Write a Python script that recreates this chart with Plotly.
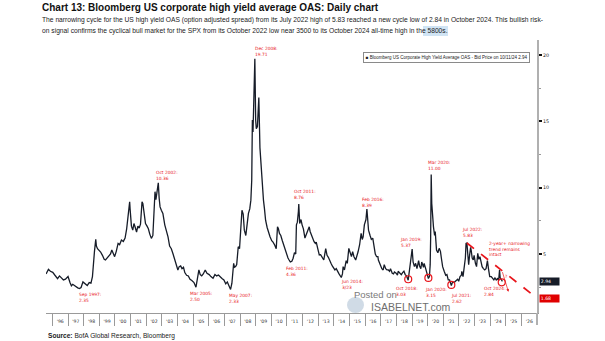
import plotly.graph_objects as go

# ---------------- data ----------------
dates = [
    "1995-08-07","1995-10-01","1995-11-15","1996-01-10","1996-03-01","1996-05-01","1996-06-15","1996-08-01",
    "1996-09-15","1996-11-01","1997-01-01","1997-02-15","1997-03-20","1997-04-20","1997-05-20","1997-07-01",
    "1997-08-15","1997-09-25","1997-11-01","1997-12-15","1998-02-01","1998-03-25","1998-05-10","1998-06-20",
    "1998-07-25","1998-08-20","1998-09-10","1998-10-10","1998-10-25","1998-11-20","1998-12-20","1999-02-01",
    "1999-03-15","1999-04-25","1999-05-25","1999-07-01","1999-08-15","1999-09-20","1999-10-20","1999-11-25",
    "1999-12-25","2000-02-01","2000-03-15","2000-04-20","2000-06-01","2000-07-15","2000-08-25","2000-10-01",
    "2000-11-05","2000-12-10","2000-12-20","2001-01-20","2001-02-20","2001-03-20","2001-04-20","2001-05-20",
    "2001-06-20","2001-07-20","2001-08-20","2001-09-25","2001-10-15","2001-11-15","2001-12-15","2002-01-20",
    "2002-02-20","2002-03-25","2002-05-01","2002-06-05","2002-06-30","2002-07-25","2002-08-15","2002-09-05",
    "2002-09-25","2002-10-10","2002-10-30","2002-11-20","2002-12-20","2003-01-25","2003-03-10","2003-04-20",
    "2003-05-25","2003-07-01","2003-08-10","2003-09-20","2003-10-25","2003-12-01","2004-01-10","2004-02-10",
    "2004-03-15","2004-04-15","2004-05-20","2004-06-20","2004-08-01","2004-09-10","2004-10-20","2004-12-01",
    "2005-01-20","2005-03-08","2005-04-10","2005-05-15","2005-06-15","2005-07-20","2005-08-25","2005-10-10",
    "2005-11-20","2006-01-10","2006-02-20","2006-04-10","2006-05-25","2006-07-05","2006-08-15","2006-09-25",
    "2006-11-05","2006-12-20","2007-02-01","2007-03-10","2007-04-15","2007-05-25","2007-06-25","2007-07-15",
    "2007-08-05","2007-08-25","2007-09-20","2007-10-15","2007-11-20","2007-12-20","2008-01-20","2008-02-15",
    "2008-03-15","2008-04-10","2008-05-15","2008-06-15","2008-07-15","2008-08-15","2008-09-10","2008-09-30",
    "2008-10-15","2008-10-30","2008-11-20","2008-12-12","2008-12-31","2009-01-15","2009-02-10","2009-03-05",
    "2009-03-15","2009-04-10","2009-05-05","2009-06-01","2009-07-01","2009-07-25","2009-08-20","2009-09-25",
    "2009-10-25","2009-12-01","2010-01-10","2010-02-10","2010-03-20","2010-04-25","2010-05-25","2010-06-15",
    "2010-07-10","2010-08-10","2010-09-15","2010-10-20","2010-11-25","2010-12-25","2011-01-25","2011-02-20",
    "2011-03-20","2011-04-25","2011-05-25","2011-06-25","2011-07-25","2011-08-10","2011-09-01","2011-09-25",
    "2011-10-04","2011-10-25","2011-11-25","2011-12-20","2012-01-20","2012-02-25","2012-03-25","2012-04-25",
    "2012-06-04","2012-06-25","2012-07-25","2012-08-25","2012-09-25","2012-10-25","2012-11-15","2012-12-20",
    "2013-01-25","2013-02-25","2013-03-25","2013-05-10","2013-06-24","2013-07-25","2013-08-25","2013-09-25",
    "2013-10-25","2013-11-25","2013-12-25","2014-01-25","2014-02-25","2014-04-01","2014-05-01","2014-06-23",
    "2014-07-20","2014-08-05","2014-09-05","2014-10-15","2014-11-10","2014-12-16","2015-01-15","2015-02-15",
    "2015-03-15","2015-04-15","2015-05-25","2015-06-30","2015-07-20","2015-08-25","2015-09-29","2015-10-25",
    "2015-11-15","2015-12-14","2016-01-20","2016-02-11","2016-03-01","2016-03-20","2016-04-25","2016-05-25",
    "2016-06-27","2016-07-25","2016-08-25","2016-09-25","2016-10-25","2016-11-05","2016-12-15","2017-01-25",
    "2017-02-25","2017-03-22","2017-04-25","2017-05-25","2017-06-25","2017-07-25","2017-08-15","2017-09-25",
    "2017-10-25","2017-11-15","2017-12-25","2018-01-25","2018-02-10","2018-03-25","2018-04-25","2018-05-25",
    "2018-06-25","2018-07-25","2018-08-25","2018-10-03","2018-10-30","2018-11-25","2018-12-15","2019-01-03",
    "2019-01-25","2019-02-25","2019-03-25","2019-04-25","2019-06-03","2019-06-25","2019-07-25","2019-08-15",
    "2019-09-25","2019-10-10","2019-11-15","2019-12-15","2020-01-17","2020-02-10","2020-02-28","2020-03-10",
    "2020-03-23","2020-04-05","2020-04-25","2020-05-15","2020-06-10","2020-06-25","2020-07-25","2020-08-25",
    "2020-09-25","2020-10-25","2020-11-15","2020-12-15","2021-01-20","2021-02-25","2021-03-25","2021-04-25",
    "2021-05-25","2021-07-06","2021-08-05","2021-09-10","2021-10-10","2021-11-30","2021-12-25","2022-01-25",
    "2022-02-25","2022-03-08","2022-04-05","2022-05-10","2022-05-30","2022-06-15","2022-07-05","2022-07-25",
    "2022-08-15","2022-09-05","2022-09-30","2022-10-12","2022-11-05","2022-11-30","2022-12-20","2023-01-20",
    "2023-02-15","2023-03-15","2023-04-10","2023-05-05","2023-05-31","2023-06-25","2023-07-25","2023-08-25",
    "2023-09-25","2023-10-27","2023-11-20","2023-12-20","2024-01-25","2024-02-25","2024-03-25","2024-04-20",
    "2024-05-20","2024-06-20","2024-07-15","2024-08-05","2024-08-20","2024-09-10","2024-09-25","2024-10-11",
]
oas = [
    3.50, 3.85, 3.70, 3.62, 3.40, 3.15, 3.35, 3.20,
    3.05, 3.10, 3.30, 2.85, 2.60, 2.72, 2.65, 2.50,
    2.45, 2.40, 2.48, 2.90, 2.75, 2.62, 2.85, 2.80,
    3.30, 4.60, 5.20, 6.10, 5.60, 5.40, 5.30, 5.15,
    4.90, 4.60, 4.55, 4.70, 4.85, 5.00, 5.30, 5.05,
    4.80, 5.20, 5.80, 5.70, 6.05, 5.95, 6.20, 6.90,
    7.80, 8.93, 8.40, 7.10, 6.80, 7.30, 7.00, 6.65,
    7.10, 6.95, 7.25, 8.93, 8.80, 8.00, 7.30, 7.10,
    6.90, 6.50, 6.18, 6.40, 7.80, 9.70, 9.10, 9.50,
    9.90, 10.36, 9.20, 8.55, 8.30, 8.06, 7.20, 6.80,
    6.30, 5.60, 5.40, 5.00, 4.60, 4.30, 3.80, 4.05,
    4.10, 3.90, 4.00, 3.60, 3.40, 3.35, 3.10, 3.00,
    2.85, 2.50, 3.10, 3.80, 3.45, 3.35, 3.50, 3.80,
    3.55, 3.45, 3.30, 3.17, 3.45, 3.35, 3.42, 3.25,
    3.15, 3.05, 2.75, 2.90, 2.60, 2.33, 2.80, 3.60,
    4.30, 4.00, 4.05, 4.20, 5.55, 5.40, 6.80, 8.30,
    8.00, 6.80, 6.40, 7.30, 8.06, 8.40, 9.06, 10.56,
    15.10, 14.20, 17.50, 19.71, 15.10, 14.45, 14.60, 15.60,
    16.80, 13.00, 11.56, 9.80, 9.06, 8.40, 7.55, 7.00,
    6.60, 6.30, 6.00, 5.90, 5.68, 5.40, 7.05, 6.90,
    6.55, 6.40, 6.00, 5.60, 5.30, 5.00, 4.70, 4.55,
    4.40, 4.45, 4.68, 5.10, 5.00, 7.20, 7.40, 8.20,
    8.76, 7.30, 7.60, 7.20, 6.90, 6.20, 6.43, 6.60,
    7.05, 6.70, 6.40, 6.10, 5.93, 5.80, 5.90, 5.40,
    4.93, 4.95, 4.80, 4.55, 5.40, 4.90, 4.75, 4.43,
    4.30, 4.10, 3.93, 3.80, 3.90, 3.60, 3.50, 3.23,
    3.50, 4.05, 3.80, 4.50, 4.30, 5.43, 5.00, 4.80,
    5.17, 4.80, 4.55, 4.90, 5.17, 5.70, 6.55, 6.10,
    6.30, 7.20, 7.60, 8.39, 7.40, 6.80, 6.40, 6.10,
    6.20, 5.55, 5.00, 4.80, 4.80, 4.55, 4.18, 3.90,
    3.80, 4.20, 3.90, 3.80, 3.80, 3.70, 3.90, 3.55,
    3.50, 3.65, 3.55, 3.40, 3.70, 3.55, 3.45, 3.60,
    3.70, 3.45, 3.35, 3.03, 3.80, 4.20, 4.90, 5.37,
    4.40, 4.05, 4.30, 3.90, 4.50, 4.10, 3.90, 4.40,
    4.00, 4.30, 3.90, 3.50, 3.15, 3.30, 4.20, 6.20,
    11.00, 8.80, 7.80, 7.05, 6.40, 6.70, 5.30, 5.10,
    5.43, 5.20, 4.70, 4.05, 3.70, 3.40, 3.45, 3.05,
    3.05, 2.62, 2.90, 2.85, 2.95, 3.10, 2.95, 3.30,
    3.40, 3.70, 3.30, 4.40, 4.70, 5.80, 5.83, 5.00,
    4.20, 4.90, 5.50, 5.30, 4.70, 4.55, 4.90, 4.30,
    4.05, 5.05, 4.60, 4.80, 4.40, 4.05, 3.90, 3.80,
    3.90, 4.50, 3.90, 3.30, 3.30, 3.20, 3.05, 3.20,
    3.05, 3.15, 3.00, 3.80, 3.20, 3.10, 3.05, 2.94,
]

low_dates = ["2018-10-03", "2020-01-17", "2021-07-06", "2024-09-25"]
low_vals = [3.10, 3.20, 2.67, 2.87]

trend_dates = ["2022-07-05", "2026-12-25"]
trend_vals = [5.83, 1.68]

last_value = 2.94
target_value = 1.68

labels = [
    "Sep 1997:<br>2.35", "Oct 2002:<br>10.36", "Mar 2005:<br>2.50", "May 2007:<br>2.33",
    "Dec 2008:<br>19.71", "Oct 2011:<br>8.76", "Feb 2011:<br>4.36", "Jun 2014:<br>3/23",
    "Feb 2016:<br>8.39", "Oct 2018:<br>3.03", "Jan 2019:<br>5.37", "Jan 2020:<br>3.15",
    "Mar 2020:<br>11.00", "Jul 2021:<br>2.62", "Jul 2022:<br>5.83",
    "2-year+ narrowing<br>trend remains<br>intact", "Oct 2024:<br>2.84",
]
# pixel positions (left, top) for each label
label_pos = [
    (77, 290), (154, 168), (188, 289), (227, 291),
    (253, 44), (292, 187), (284, 264), (339, 277),
    (360, 195), (394, 284), (398, 235), (423, 285),
    (426, 158), (449, 291), (460, 225),
    (487, 239), (482, 284),
]

# ---------------- layout helpers ----------------
W, H = 605, 341
L, R, T, B = 46, 68, 40, 28
PW, PH = W - L - R, H - T - B


def px(x):
    return (x - L) / PW


def py(y):
    return (H - B - y) / PH


RED = "#e8151b"
NAVY = "#161c28"
SANS = "Liberation Sans, Arial, sans-serif"

fig = go.Figure()
fig.add_trace(go.Scatter(x=dates, y=oas, mode="lines",
                         line=dict(color=NAVY, width=1.3), showlegend=False))
fig.add_trace(go.Scatter(x=trend_dates, y=trend_vals, mode="lines",
                         line=dict(color=RED, width=1.7, dash="dash"), showlegend=False))
fig.add_trace(go.Scatter(x=low_dates, y=low_vals, mode="markers",
                         marker=dict(symbol="circle-open", size=7, color=RED,
                                     line=dict(width=1.2, color=RED)),
                         showlegend=False))

ann = []
# title / subtitle
ann.append(dict(x=px(40), y=py(8), xref="paper", yref="paper", xanchor="left", yanchor="middle",
                text="<b>Chart 13: Bloomberg US corporate high yield average OAS: Daily chart</b>",
                showarrow=False, font=dict(family=SANS, size=10, color="#111")))
ann.append(dict(x=px(40), y=py(19.5), xref="paper", yref="paper", xanchor="left", yanchor="middle",
                text=("The narrowing cycle for the US high yield OAS (option adjusted spread) from its July 2022 "
                      "high of 5.83 reached a new cycle low of 2.84 in October 2024. This bullish risk-"),
                showarrow=False, font=dict(family=SANS, size=6.7, color="#222")))
ann.append(dict(x=px(40), y=py(31), xref="paper", yref="paper", xanchor="left", yanchor="middle",
                text=("on signal confirms the cyclical bull market for the SPX from its October 2022 low "
                      "near 3500 to its October 2024 all-time high in the 5800s."),
                showarrow=False, font=dict(family=SANS, size=6.7, color="#222")))
# source
ann.append(dict(x=px(46), y=py(335.5), xref="paper", yref="paper", xanchor="left", yanchor="middle",
                text="<b>Source:</b> BofA Global Research, Bloomberg",
                showarrow=False, font=dict(family=SANS, size=6.6, color="#222")))
# legend box
ann.append(dict(x=px(446), y=py(57), xref="paper", yref="paper", xanchor="center", yanchor="middle",
                text="■ Bloomberg US Corporate High Yield Average OAS - Bid Price on 10/11/24 2.94",
                showarrow=False, font=dict(family=SANS, size=4.5, color="#222"),
                bordercolor="#8a8a8a", borderwidth=1, borderpad=1.8, bgcolor="white"))
# watermark
ann.append(dict(x=px(352), y=py(294), xref="paper", yref="paper", xanchor="left", yanchor="middle",
                text="Posted on", showarrow=False,
                font=dict(family=SANS, size=9.5, color="#7a7a7a")))
ann.append(dict(x=px(369), y=py(307), xref="paper", yref="paper", xanchor="left", yanchor="middle",
                text="ISABELNET.com", showarrow=False,
                font=dict(family=SANS, size=10.5, color="#6e6e6e")))
# red labels
for t, (lx, ly) in zip(labels, label_pos):
    ann.append(dict(x=px(lx), y=py(ly), xref="paper", yref="paper", xanchor="left", yanchor="top",
                    text=t, align="left", showarrow=False,
                    font=dict(family="DejaVu Sans, Verdana, sans-serif", size=4.4, color=RED)))
# question-mark arrow near the last point
ann.append(dict(x="2025-03-01", y=2.15, ax="2024-10-01", ay=3.75, xref="x", yref="y",
                axref="x", ayref="y", showarrow=True, arrowhead=2, arrowsize=0.8,
                arrowwidth=0.7, arrowcolor=RED, text=""))
ann.append(dict(x="2025-01-20", y=3.3, xref="x", yref="y", text="?", showarrow=False,
                font=dict(family="DejaVu Sans", size=4.4, color=RED)))
# value tags on the right
ann.append(dict(x=px(539), y=last_value, xref="paper", yref="y", xanchor="left", yanchor="middle",
                text=f"{last_value:.2f}", showarrow=False, bgcolor=NAVY, borderpad=0.8,
                font=dict(family="DejaVu Sans", size=4.6, color="white"), width=17, align="left"))
ann.append(dict(x=px(539), y=target_value, xref="paper", yref="y", xanchor="left", yanchor="middle",
                text=f"{target_value:.2f}", showarrow=False, bgcolor="#e00000", borderpad=0.8,
                font=dict(family="DejaVu Sans", size=4.6, color="white"), width=17, align="left"))

shapes = [
    # highlight behind "5800s."
    dict(type="rect", xref="paper", yref="paper", x0=px(423), x1=px(448), y0=py(36), y1=py(26),
         fillcolor="rgba(170,205,235,0.55)", line=dict(width=0), layer="below"),
    # watermark globe
    dict(type="circle", xref="paper", yref="paper", x0=px(347), x1=px(364), y0=py(313), y1=py(297),
         fillcolor="rgba(150,175,200,0.45)", line=dict(width=0), layer="below"),
    # extension of the right axis line below the plot
    dict(type="line", xref="paper", yref="paper", x0=1, x1=1, y0=0, y1=py(325),
         line=dict(color="#b0b0b0", width=2)),
]

fig.update_layout(
    width=W, height=H,
    margin=dict(l=L, r=R, t=T, b=B),
    paper_bgcolor="white", plot_bgcolor="white",
    annotations=ann, shapes=shapes,
    xaxis=dict(type="date", range=["1995-08-05", "2026-12-28"], showgrid=False, zeroline=False,
               dtick="M12", tick0="1996-01-01", tickformat="'%y", ticklabelmode="period",
               ticks="outside", ticklen=12, tickcolor="#9a9a9a", tickwidth=1,
               showline=True, linecolor="#9a9a9a", linewidth=1,
               ticklabelstandoff=-9,
               tickfont=dict(family="DejaVu Sans, sans-serif", size=4.6, color="#333")),
    yaxis=dict(side="right", range=[0.555, 21.13], showgrid=False, zeroline=False,
               dtick=5, tick0=0, ticks="outside", ticklen=3, tickcolor="#111", tickwidth=1.5,
               showline=True, linecolor="#b0b0b0", linewidth=2,
               minor=dict(dtick=2.5, tick0=0, ticks="outside", ticklen=2, tickcolor="#999", tickwidth=1),
               tickfont=dict(family="DejaVu Sans, sans-serif", size=4.8, color="#222")),
)

fig.write_html("out.html")
